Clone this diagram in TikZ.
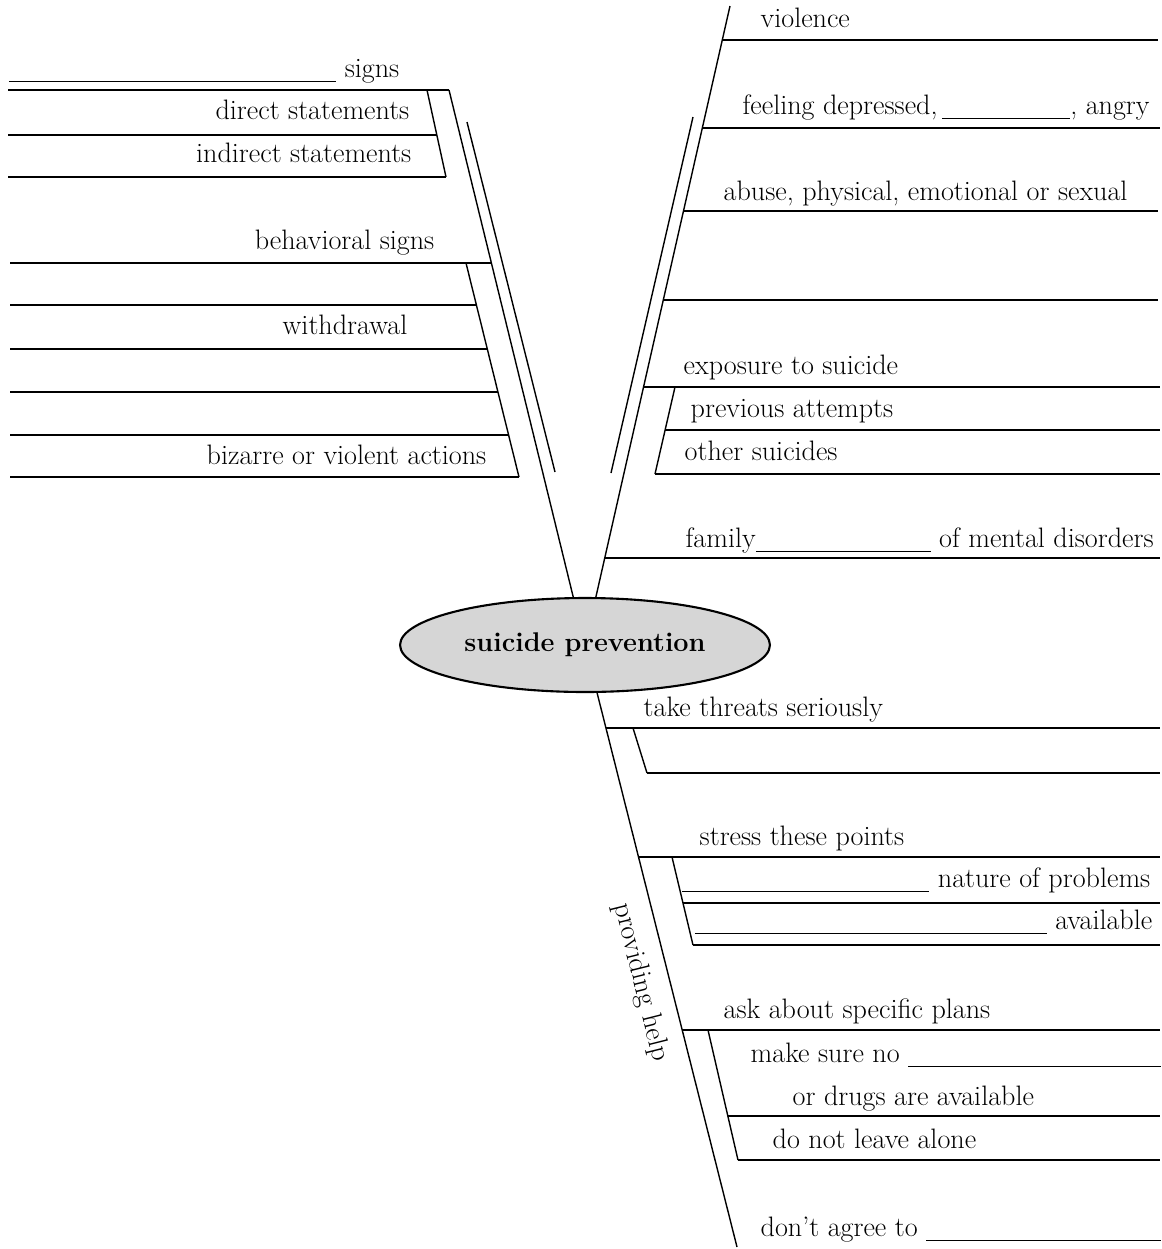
\documentclass[tikz,border=0pt]{standalone}
\usetikzlibrary{shapes.geometric}
\newcommand{\labelfont}{\fontsize{16}{19}\selectfont}
\newcommand{\corefont}{\fontsize{15.4}{18}\selectfont\bfseries}
\newcommand{\blank}[1]{\rule[-3pt]{#1}{0.7pt}}
\tikzstyle{rlabel}=[anchor=base west,inner sep=0pt,font=\labelfont]
\tikzstyle{llabel}=[anchor=base east,inner sep=0pt,font=\labelfont]
\tikzstyle{core}=[draw,ellipse,line width=1.2pt,fill=coregray,minimum width=7.4cm,minimum height=1.88cm,inner sep=0pt,font=\corefont]
\definecolor{coregray}{RGB}{214,214,214}

\begin{document}
\begin{tikzpicture}[x=0.02cm,y=-0.02cm,line width=0.8pt]
\useasboundingbox (0,0) rectangle (1161,1249);
\draw (585,645) node [core] (sp) {suicide prevention};
\coordinate (lt) at (449,90);
\coordinate (rt) at (730,6);
\coordinate (bb) at (737,1247);
\draw (lt) -- (sp);
\draw (rt) -- (sp);
\draw (sp) -- (bb);

% signs
\draw (400,77) node [llabel] (signs) {\blank{6.55cm} signs};
\draw (410,119) node [llabel] (direct) {direct statements};
\draw (412,162) node [llabel] (indirect) {indirect statements};
\draw (8,90) -- (lt);
\draw (8,135) -- (437,135);
\draw (8,177) -- (446,177);
\draw (427,90) -- (446,177);
\draw (467,122) -- (555,472);

% behavioral signs
\draw (435,249) node [llabel] (behav) {behavioral signs};
\draw (408,334) node [llabel] (withdraw) {withdrawal};
\draw (487,464) node [llabel] (bizarre) {bizarre or violent actions};
\draw (10,263) -- (492,263);
\draw (466,263) -- (519,477);
\draw (10,305) -- (476,305);
\draw (10,349) -- (487,349);
\draw (10,392) -- (498,392);
\draw (10,435) -- (509,435);
\draw (10,477) -- (519,477);

% risk factors
\draw (760,27) node [rlabel] (violence) {violence};
\draw (742,114) node [rlabel] (feeling) {feeling depressed,\,\blank{2.56cm}, angry};
\draw (723,200) node [rlabel] (abuse) {abuse, physical, emotional or sexual};
\draw (683,374) node [rlabel] (exposure) {exposure to suicide};
\draw (690,417) node [rlabel] (previous) {previous attempts};
\draw (684,460) node [rlabel] (others) {other suicides};
\draw (685,547) node [rlabel] (family) {family\blank{3.5cm} of mental disorders};
\draw (722,40) -- (1158,40);
\draw (702,128) -- (1160,128);
\draw (693,117) -- (611,473);
\draw (683,211) -- (1158,211);
\draw (663,300) -- (1158,300);
\draw (643,387) -- (1160,387);
\draw (675,387) -- (655,474);
\draw (665,430) -- (1160,430);
\draw (655,474) -- (1160,474);
\draw (605,558) -- (1160,558);

% providing help
\draw (641,982) node [rotate=-76,inner sep=0pt,font=\labelfont] (help) {providing help};
\draw (643,716) node [rlabel] (threats) {take threats seriously};
\draw (606,728) -- (1160,728);
\draw (633,728) -- (647,773);
\draw (647,773) -- (1160,773);
\draw (699,845) node [rlabel] (stress) {stress these points};
\draw (1151,887) node [llabel] (nature) {\blank{4.94cm} nature of problems};
\draw (1153,929) node [llabel] (avail) {\blank{7.04cm} available};
\draw (638,857) -- (1160,857);
\draw (672,857) -- (693,945);
\draw (683,903) -- (1160,903);
\draw (693,945) -- (1160,945);
\draw (723,1018) node [rlabel] (ask) {ask about specific plans};
\draw (750,1062) node [rlabel] (sure) {make sure no \blank{5.05cm}};
\draw (792,1105) node [rlabel] (drugs) {or drugs are available};
\draw (772,1148) node [rlabel] (alone) {do not leave alone};
\draw (682,1030) -- (1160,1030);
\draw (708,1030) -- (738,1160);
\draw (728,1116) -- (1160,1116);
\draw (738,1160) -- (1160,1160);
\draw (760,1236) node [rlabel] (agree) {don't agree to \blank{4.7cm}};
\end{tikzpicture}
\end{document}
